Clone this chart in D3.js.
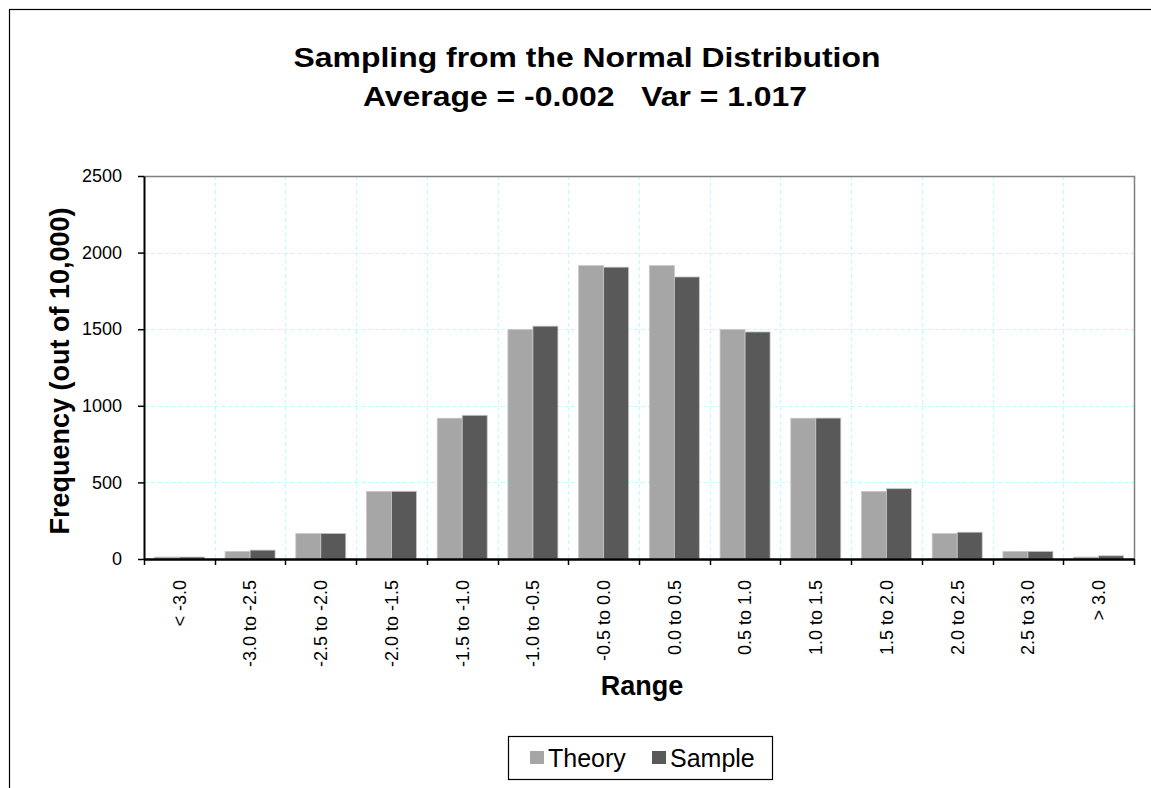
<!DOCTYPE html>
<html lang="en">
<head>
    <meta charset="UTF-8">
    <title>Sampling from the Normal Distribution</title>
    <script src="https://d3js.org/d3.v7.min.js"></script>
    <style>
        body { margin: 0; background: #fff; font-family: "Liberation Sans", Arial, sans-serif; }
        svg { display: block; }
        .grid-line { stroke: #b8ffff; stroke-dasharray: 4,3; stroke-width: 1px; shape-rendering: crispEdges; }
        .axis text { font-size: 18px; fill: #000; font-family: "Liberation Sans", Arial, sans-serif; }
        .axis path, .axis line { stroke: #000; }
        .title { font-size: 28.5px; font-weight: bold; text-anchor: middle; }
        .axis-label { font-size: 27px; font-weight: bold; text-anchor: middle; }
        .legend-text { font-size: 25px; }
    </style>
</head>
<body>
<div id="chart"></div>
<script>
    // --- Data ---
    const categories = ["< -3.0", "-3.0 to -2.5", "-2.5 to -2.0", "-2.0 to -1.5", "-1.5 to -1.0",
                        "-1.0 to -0.5", "-0.5 to 0.0", "0.0 to 0.5", "0.5 to 1.0", "1.0 to 1.5",
                        "1.5 to 2.0", "2.0 to 2.5", "2.5 to 3.0", "> 3.0"];
    const seriesNames = ["Theory", "Sample"];
    const theoryValues = [13, 49, 166, 441, 919, 1499, 1915, 1915, 1499, 919, 441, 166, 49, 13];
    const sampleValues = [13, 58, 167, 442, 938, 1520, 1905, 1841, 1482, 920, 459, 175, 50, 21];
    const seriesColors = ["#a6a6a6", "#595959"];
    const yTicks = [0, 500, 1000, 1500, 2000, 2500];

    // --- Layout ---
    const W = 1151, H = 788;
    const plot = { left: 144, right: 1134, top: 176, bottom: 559 };

    const svg = d3.select("#chart").append("svg").attr("width", W).attr("height", H);

    // outer chart frame (runs past the right/bottom edge)
    svg.append("rect").attr("x", 9.5).attr("y", 9.5).attr("width", W + 20).attr("height", H + 20)
        .attr("fill", "none").attr("stroke", "#000").attr("stroke-width", 1.2);

    // --- Scales ---
    const x0 = d3.scaleBand().domain(categories).range([plot.left, plot.right]).padding(0);
    const x1 = d3.scaleBand().domain(seriesNames).range([0, x0.bandwidth()]).paddingInner(0).paddingOuter(0.414);
    const y = d3.scaleLinear().domain([0, 2500]).range([plot.bottom, plot.top]);

    // --- Grid ---
    const grid = svg.append("g");
    grid.selectAll(".hgrid").data(yTicks.slice(1, -1)).join("line")
        .attr("class", "grid-line")
        .attr("x1", plot.left).attr("x2", plot.right)
        .attr("y1", d => Math.round(y(d)) + 0.5).attr("y2", d => Math.round(y(d)) + 0.5);
    grid.selectAll(".vgrid").data(categories.slice(1)).join("line")
        .attr("class", "grid-line")
        .attr("x1", d => Math.round(x0(d)) + 0.5).attr("x2", d => Math.round(x0(d)) + 0.5)
        .attr("y1", plot.top).attr("y2", plot.bottom);

    // plot frame top/right in gray
    svg.append("path")
        .attr("d", `M${plot.left},${plot.top + 0.5}H${plot.right + 0.5}V${plot.bottom}`)
        .attr("fill", "none").attr("stroke", "#808080").attr("stroke-width", 1.5);

    // --- Bars ---
    const rows = categories.map((c, i) => ({ cat: c, vals: [theoryValues[i], sampleValues[i]] }));
    const groups = svg.append("g").selectAll("g").data(rows).join("g")
        .attr("transform", d => `translate(${x0(d.cat)},0)`);
    groups.selectAll("rect").data(d => d.vals.map((v, j) => ({ name: seriesNames[j], v, j }))).join("rect")
        .attr("x", d => x1(d.name))
        .attr("y", d => y(d.v))
        .attr("width", x1.bandwidth())
        .attr("height", d => y(0) - y(d.v))
        .attr("fill", d => seriesColors[d.j])
        .attr("stroke", "#c8c8c8").attr("stroke-width", 0.8);

    // --- Axes ---
    const yAxis = svg.append("g").attr("class", "axis")
        .attr("transform", `translate(${plot.left},0)`)
        .call(d3.axisLeft(y).tickValues(yTicks).tickFormat(d3.format("d")).tickSize(6).tickSizeOuter(0).tickPadding(16));
    yAxis.select(".domain").attr("stroke-width", 2);
    yAxis.selectAll(".tick line").attr("stroke-width", 1.5);

    const xAxis = svg.append("g").attr("class", "axis")
        .attr("transform", `translate(0,${plot.bottom})`)
        .call(d3.axisBottom(x0).tickSize(0).tickSizeOuter(0));
    xAxis.select(".domain").attr("stroke-width", 2.5);
    xAxis.selectAll(".tick text")
        .attr("transform", "rotate(-90)")
        .attr("text-anchor", "end")
        .attr("x", -21).attr("y", 0).attr("dy", "0.35em");
    // tick marks at category boundaries
    const bounds = categories.map(c => x0(c)).concat([plot.right]);
    svg.append("g").selectAll("line").data(bounds).join("line")
        .attr("x1", d => Math.round(d) + 0.5).attr("x2", d => Math.round(d) + 0.5)
        .attr("y1", plot.bottom).attr("y2", plot.bottom + 6)
        .attr("stroke", "#000").attr("stroke-width", 1.5);

    // --- Titles (slightly wide, as in the original) ---
    svg.append("text").attr("class", "title")
        .attr("transform", "translate(587,67) scale(1.12,1)")
        .text("Sampling from the Normal Distribution");
    svg.append("text").attr("class", "title")
        .attr("transform", "translate(585,106) scale(1.12,1)")
        .attr("xml:space", "preserve")
        .text("Average = -0.002   Var = 1.017");

    svg.append("text").attr("class", "axis-label")
        .attr("x", 642).attr("y", 695).text("Range");
    svg.append("text").attr("class", "axis-label")
        .attr("transform", `translate(69,371) rotate(-90)`)
        .text("Frequency (out of 10,000)");

    // --- Legend ---
    const legend = svg.append("g").attr("transform", "translate(508,736)");
    legend.append("rect").attr("x", 0.5).attr("y", 0.5).attr("width", 264).attr("height", 43)
        .attr("fill", "#fff").attr("stroke", "#000").attr("stroke-width", 1.2);
    const legendX = [22, 144];
    seriesNames.forEach((name, j) => {
        legend.append("rect").attr("x", legendX[j]).attr("y", 15).attr("width", 14).attr("height", 13)
            .attr("fill", seriesColors[j]);
        legend.append("text").attr("class", "legend-text")
            .attr("x", legendX[j] + 18).attr("y", 31).text(name);
    });
</script>
</body>
</html>
